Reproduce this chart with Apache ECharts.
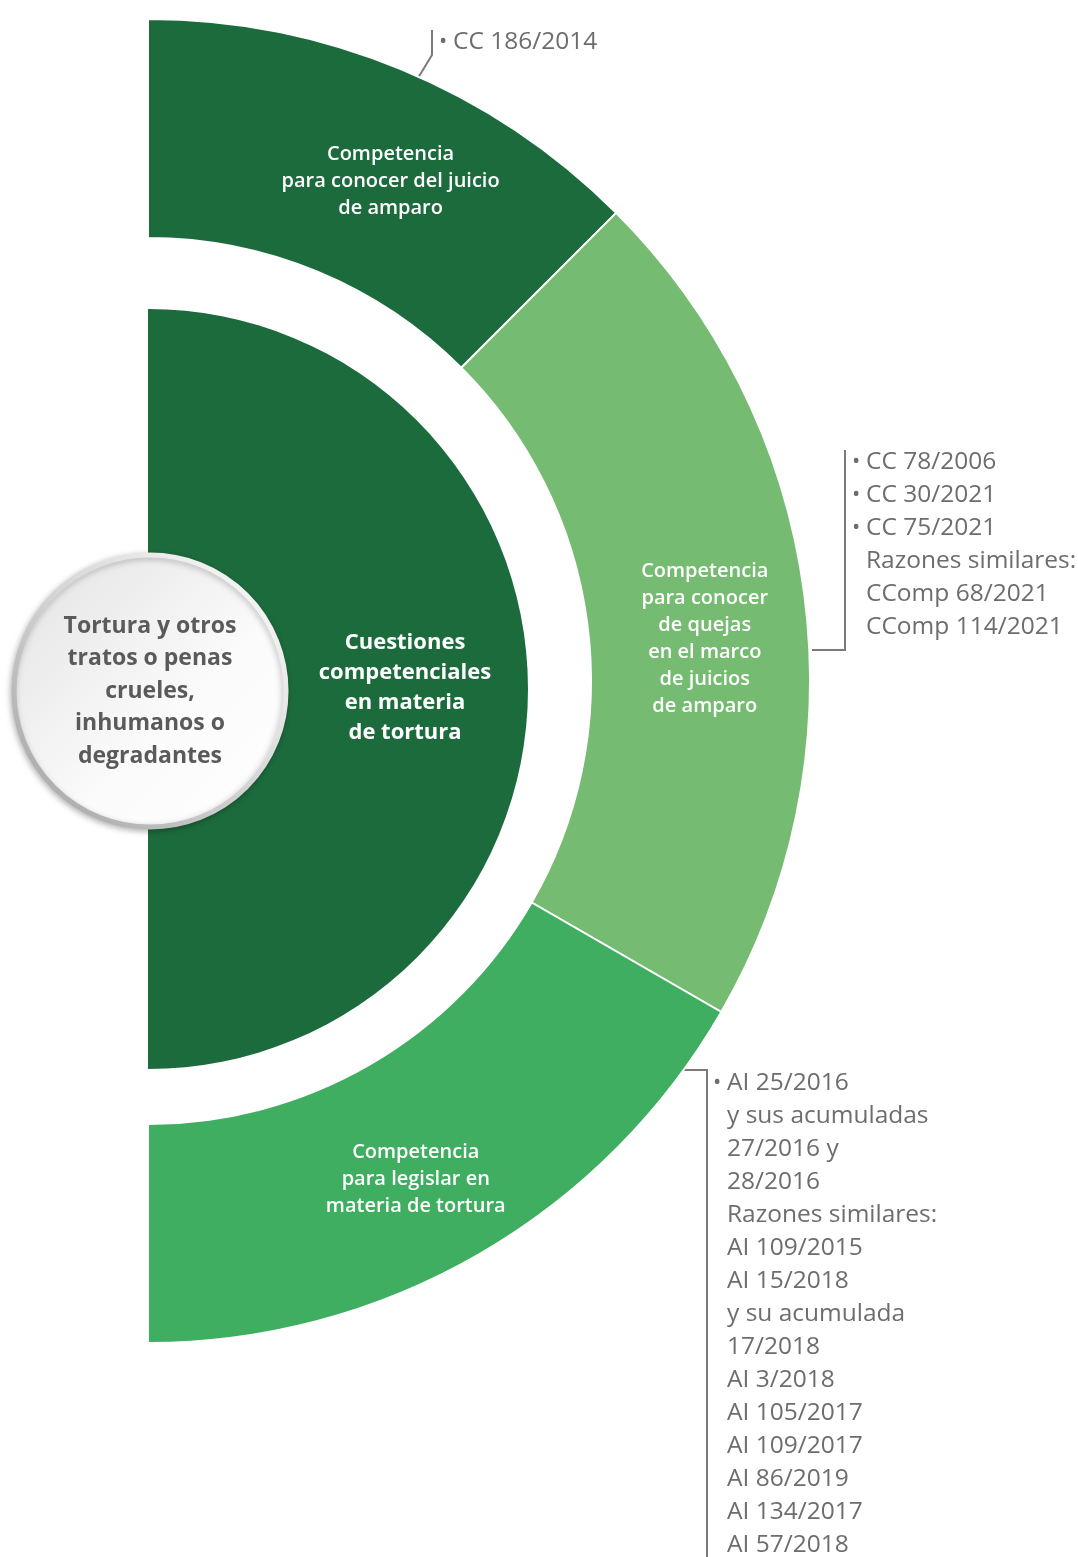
<!DOCTYPE html>
<html>
<head>
<meta charset="utf-8">
<script src="https://cdn.jsdelivr.net/npm/echarts@6/dist/echarts.min.js"></script>
<style>
  html, body { margin: 0; padding: 0; background: #fff; }
  #main { width: 1078px; height: 1557px; }
</style>
</head>
<body>
<div id="main"></div>
<script>
// outer ring: spans in degrees, clockwise from the top
const segmentNames = [
  'Competencia\npara conocer del juicio\nde amparo',
  'Competencia\npara conocer\nde quejas\nen el marco\nde juicios\nde amparo',
  'Competencia\npara legislar en\nmateria de tortura'
];
const segmentSpans = [45, 75, 60];
const segmentColors = ['#1c6b3c', '#76bb72', '#3fae61'];

const innerName = 'Cuestiones\ncompetenciales\nen materia\nde tortura';
const innerSpan = 180;
const centerName = 'Tortura y otros\ntratos o penas\ncrueles,\ninhumanos o\ndegradantes';

// notes beside each segment ([bullet, text])
const notesTop = [[true, 'CC 186/2014']];
const notesMid = [
  [true, 'CC 78/2006'],
  [true, 'CC 30/2021'],
  [true, 'CC 75/2021'],
  [false, 'Razones similares:'],
  [false, 'CComp 68/2021'],
  [false, 'CComp 114/2021']
];
const notesBottom = [
  [true, 'AI 25/2016'],
  [false, 'y sus acumuladas'],
  [false, '27/2016 y'],
  [false, '28/2016'],
  [false, 'Razones similares:'],
  [false, 'AI 109/2015'],
  [false, 'AI 15/2018'],
  [false, 'y su acumulada'],
  [false, '17/2018'],
  [false, 'AI 3/2018'],
  [false, 'AI 105/2017'],
  [false, 'AI 109/2017'],
  [false, 'AI 86/2019'],
  [false, 'AI 134/2017'],
  [false, 'AI 57/2018']
];

const FONT = '"Open Sans", "Noto Sans", sans-serif';
const GREY = '#6d6d6d';
// small nudges of the ring labels, as placed in the original
const labelNudge = [[30, 14], [6, 30], [-10, 17]];

const chart = echarts.init(document.getElementById('main'));

function noteTexts(list, x, y0, step) {
  const out = [];
  list.forEach(function (n, i) {
    const y = y0 + i * step;
    if (n[0]) {
      out.push({ type: 'text', x: x - 1, y: y, style: {
        text: '•', fill: GREY, font: '22px ' + FONT, textVerticalAlign: 'middle' } });
    }
    out.push({ type: 'text', x: x + 13, y: y, style: {
      text: n[1], fill: GREY, font: '24.5px ' + FONT, textVerticalAlign: 'middle' } });
  });
  return out;
}

const lineStyle = { stroke: '#7a7a7a', lineWidth: 2, fill: null };

const graphics = [
  // inner disk label
  { type: 'text', x: 405, y: 688, z: 10, style: {
      text: innerName, fill: '#fff', font: 'bold 22px ' + FONT,
      textAlign: 'center', textVerticalAlign: 'middle', lineHeight: 30 } },
  // leader lines
  { type: 'polyline', shape: { points: [[418, 78], [432, 55], [432, 30]] }, style: lineStyle },
  { type: 'polyline', shape: { points: [[812, 650], [845, 650], [845, 450]] }, style: lineStyle },
  { type: 'polyline', shape: { points: [[683, 1070], [707, 1070], [707, 1557]] }, style: lineStyle }
].concat(
  noteTexts(notesTop, 440, 42, 33),
  noteTexts(notesMid, 853, 462, 33),
  noteTexts(notesBottom, 714, 1083, 33)
);

const option = {
  animation: false,
  series: [
    {
      type: 'pie',
      center: [148, 681],
      radius: [443, 662],
      startAngle: 90,
      clockwise: true,
      silent: true,
      avoidLabelOverlap: false,
      itemStyle: { borderColor: '#fff', borderWidth: 2 },
      label: {
        position: 'inside',
        color: '#fff',
        fontFamily: FONT,
        fontWeight: 600,
        fontSize: 20,
        lineHeight: 27,
        align: 'center'
      },
      labelLine: { show: false },
      labelLayout: function (p) {
        const n = labelNudge[p.dataIndex];
        return n ? { dx: n[0], dy: n[1] } : {};
      },
      data: segmentNames.map(function (name, i) {
        return { name: name, value: segmentSpans[i], itemStyle: { color: segmentColors[i] } };
      }).concat([{ name: '', value: 360 - segmentSpans.reduce(function (a, b) { return a + b; }, 0),
                   itemStyle: { color: 'rgba(0,0,0,0)', borderWidth: 0 }, label: { show: false } }])
    },
    {
      type: 'pie',
      center: [148, 689],
      radius: [0, 380],
      startAngle: 90,
      silent: true,
      label: { show: false },
      labelLine: { show: false },
      data: [
        { name: innerName, value: innerSpan, itemStyle: { color: segmentColors[0] } },
        { name: '', value: 360 - innerSpan, itemStyle: { color: 'rgba(0,0,0,0)' } }
      ]
    },
    {
      type: 'pie',
      center: [150, 691],
      radius: [0, 136],
      silent: true,
      z: 5,
      itemStyle: {
        color: new echarts.graphic.LinearGradient(0, 0, 1, 1, [
          { offset: 0, color: '#e2e2e2' },
          { offset: 0.6, color: '#fbfbfb' },
          { offset: 1, color: '#ffffff' }
        ]),
        borderWidth: 5,
        borderColor: new echarts.graphic.LinearGradient(1, 0, 0, 1, [
          { offset: 0, color: '#ffffff' },
          { offset: 0.5, color: '#d4d4d4' },
          { offset: 1, color: '#a0a0a0' }
        ]),
        shadowBlur: 6,
        shadowColor: 'rgba(0,0,0,0.25)',
        shadowOffsetX: -1,
        shadowOffsetY: 2
      },
      label: {
        position: 'center',
        color: '#5a5a5a',
        fontFamily: FONT,
        fontWeight: 'bold',
        fontSize: 23,
        lineHeight: 32.5,
        align: 'center'
      },
      labelLine: { show: false },
      data: [{ name: centerName, value: 1 }]
    }
  ],
  graphic: graphics
};

chart.setOption(option);
</script>
</body>
</html>
